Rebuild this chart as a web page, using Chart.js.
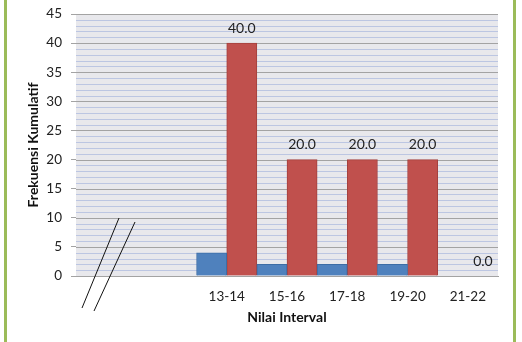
<!DOCTYPE html>
<html>
<head>
<meta charset="utf-8">
<script src="https://cdn.jsdelivr.net/npm/chart.js@4.4.0/dist/chart.umd.min.js"></script>
<style>
  body { margin: 0; background: #fff; }
  #wrap { width: 522px; height: 342px; }
</style>
</head>
<body>
<div id="wrap"><canvas id="myChartBar" width="522" height="342"></canvas></div>
<script>
// data
var kategori = ['', '', '13-14', '15-16', '17-18', '19-20', '21-22'];
var seriBiru = [null, null, 4, 2, 2, 2, 0];
var seriMerah = [null, null, 40, 20, 20, 20, 0];
var yMax = 45;
var yMajor = 5;

var fontName = 'Lato, "Open Sans", sans-serif';

// background plot, garis grid, garis putus sumbu, bingkai hijau, label data
var hiasanPlugin = {
  id: 'hiasan',
  beforeDatasetsDraw: function(chart) {
    var a = chart.chartArea;
    var ctx = chart.ctx;
    var ys = chart.scales.y;
    ctx.save();
    ctx.fillStyle = '#E8E8EC';
    ctx.fillRect(a.left, a.top, a.right - a.left, a.bottom - a.top);
    ctx.lineWidth = 1;
    ys.ticks.forEach(function(t) {
      var y = Math.round(ys.getPixelForValue(t.value)) + 0.5;
      ctx.strokeStyle = t.value % yMajor === 0 ? '#A3A3A3' : '#BCC6E2';
      ctx.beginPath();
      ctx.moveTo(a.left, y);
      ctx.lineTo(a.right, y);
      ctx.stroke();
    });
    ctx.restore();
  },
  afterDraw: function(chart) {
    var ctx = chart.ctx;
    var a = chart.chartArea;
    var meta = chart.getDatasetMeta(1);
    ctx.save();
    // label data seri merah
    ctx.font = '14px ' + fontName;
    ctx.fillStyle = '#222';
    ctx.textAlign = 'center';
    ctx.textBaseline = 'middle';
    meta.data.forEach(function(bar, i) {
      var v = seriMerah[i];
      if (v === null) return;
      ctx.fillText(v.toFixed(1), bar.x, bar.y - 15);
    });
    // tanda putus sumbu
    ctx.strokeStyle = '#111';
    ctx.lineWidth = 1;
    ctx.beginPath();
    ctx.moveTo(a.left + 43, a.bottom - 58);
    ctx.lineTo(a.left + 6, a.bottom + 32);
    ctx.moveTo(a.left + 59, a.bottom - 54);
    ctx.lineTo(a.left + 18, a.bottom + 35);
    ctx.stroke();
    // bingkai hijau
    ctx.strokeStyle = '#9BBB59';
    ctx.lineWidth = 3;
    ctx.beginPath();
    ctx.moveTo(5.5, 0);
    ctx.lineTo(5.5, chart.height);
    ctx.moveTo(514.5, 0);
    ctx.lineTo(514.5, chart.height);
    ctx.stroke();
    ctx.restore();
  }
};

var ctxBar = document.getElementById('myChartBar');
var myChartBar = new Chart(ctxBar, {
  type: 'bar',
  data: {
    labels: kategori,
    datasets: [{
      label: 'Biru',
      data: seriBiru,
      backgroundColor: '#4F81BD',
      borderColor: '#3D6DA6',
      borderWidth: 1,
      categoryPercentage: 1,
      barPercentage: 1
    }, {
      label: 'Merah',
      data: seriMerah,
      backgroundColor: '#C0504D',
      borderColor: '#A4403D',
      borderWidth: 1,
      categoryPercentage: 1,
      barPercentage: 1
    }]
  },
  options: {
    responsive: false,
    animation: false,
    layout: { padding: { left: 0, top: 14, right: 24, bottom: 0 } },
    plugins: {
      legend: { display: false },
      tooltip: { enabled: false }
    },
    scales: {
      x: {
        afterFit: function(scale) { scale.height = 66; scale.paddingLeft = 0; scale.paddingRight = 0; },
        grid: { display: false, drawTicks: false },
        border: { color: '#A0A0A0', width: 1 },
        ticks: { color: '#222', padding: 13, font: { family: fontName, size: 13.5 } },
        title: {
          display: true,
          text: 'Nilai Interval',
          color: '#111',
          font: { family: fontName, size: 14, weight: 'bold' },
          padding: { top: 0, bottom: 16 }
        }
      },
      y: {
        min: 0,
        max: yMax,
        afterFit: function(scale) { scale.width = 76; scale.paddingTop = 0; scale.paddingBottom = 0; },
        border: { color: '#A0A0A0', width: 1 },
        grid: {
          drawOnChartArea: false,
          tickColor: function(c) { return c.tick.value % yMajor === 0 ? '#A3A3A3' : 'rgba(0,0,0,0)'; },
          tickLength: 5,
          lineWidth: 1
        },
        ticks: {
          stepSize: 1,
          autoSkip: false,
          padding: 9,
          color: '#222',
          font: { family: fontName, size: 13.5 },
          callback: function(v) { return v % yMajor === 0 ? v : ''; }
        },
        title: {
          display: true,
          text: 'Frekuensi Kumulatif',
          color: '#111',
          font: { family: fontName, size: 14, weight: 'bold' },
          padding: { top: 25, bottom: 0 }
        }
      }
    }
  },
  plugins: [hiasanPlugin]
});
</script>
</body>
</html>
